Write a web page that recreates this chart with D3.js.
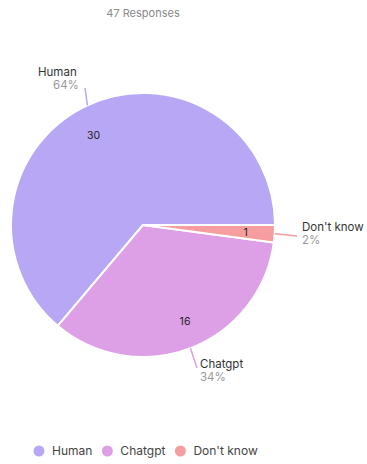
<!DOCTYPE html>
<html><head><meta charset="utf-8">
<script src="https://cdn.jsdelivr.net/npm/d3@7"></script>
<style>body{margin:0;background:#fff;}svg{display:block;font-family:Inter,"Noto Sans",sans-serif;}</style>
</head><body>
<script>
const categories = ["Human", "Chatgpt", "Don't know"];
const values = [30, 16, 1];
const percentLabels = ["64%", "34%", "2%"];
const colors = ["#b7a7f5", "#dd9fe5", "#f59d9f"];
const title = "47 Responses";

const W = 367, H = 464, cx = 143, cy = 225, R = 132;
const svg = d3.select("body").append("svg").attr("width", W).attr("height", H);

svg.append("text").attr("x", 143).attr("y", 17).attr("text-anchor", "middle")
  .attr("font-size", 11).attr("fill", "#8a8a8a").text(title);

const pie = d3.pie().sort(null).startAngle(Math.PI / 2).endAngle(Math.PI / 2 - 2 * Math.PI);
const arcs = pie(values);
const arc = d3.arc().innerRadius(0).outerRadius(R);
const g = svg.append("g").attr("transform", `translate(${cx},${cy})`);
g.selectAll("path").data(arcs).join("path")
  .attr("d", arc).attr("fill", (d, i) => colors[i])
  .attr("stroke", "#fff").attr("stroke-width", 2).attr("stroke-linejoin", "round");

// value labels inside
const valArc = d3.arc().innerRadius(R * 0.78).outerRadius(R * 0.78);
const nudge = [[-6, 4], [5, 0], [0, 0]];
g.selectAll("text.val").data(arcs).join("text").attr("class", "val")
  .attr("transform", (d, i) => {
    const c = valArc.centroid(d);
    return `translate(${c[0] + nudge[i][0]},${c[1] + nudge[i][1]})`;
  })
  .attr("text-anchor", "middle").attr("dy", "0.35em")
  .attr("font-size", 10.5).attr("fill", "#222").text((d, i) => values[i]);

// outer labels with leader lines
const labelPos = [
  { x: 38, y: 72, px: 53, lx: 85, ly: 88 },
  { x: 200, y: 364, px: 200, lx: 197, ly: 368 },
  { x: 302, y: 227, px: 302, lx: 297, ly: 236 }
];
arcs.forEach((d, i) => {
  const p = labelPos[i];
  const mid = (d.startAngle + d.endAngle) / 2;
  const ex = cx + Math.sin(mid) * R, ey = cy - Math.cos(mid) * R;
  svg.append("line").attr("x1", ex).attr("y1", ey).attr("x2", p.lx).attr("y2", p.ly)
    .attr("stroke", colors[i]).attr("stroke-width", 1.5);
  svg.append("text").attr("x", p.x).attr("y", p.y).attr("dy", "0.35em").attr("font-size", 11.5).attr("fill", "#333")
    .text(categories[i]);
  svg.append("text").attr("x", p.px).attr("y", p.y + 13).attr("dy", "0.35em").attr("font-size", 11.5)
    .attr("fill", "#999").text(percentLabels[i]);
});

// legend
const legend = svg.append("g").attr("transform", "translate(0,451)");
let lx = 39;
categories.forEach((c, i) => {
  legend.append("circle").attr("cx", lx).attr("cy", 0).attr("r", 5.5).attr("fill", colors[i]);
  const t = legend.append("text").attr("x", lx + 13).attr("y", 0).attr("dy", "0.35em")
    .attr("font-size", 12).attr("fill", "#444").text(c);
  lx += 13 + t.node().getComputedTextLength() + 15;
});
</script>
</body></html>
